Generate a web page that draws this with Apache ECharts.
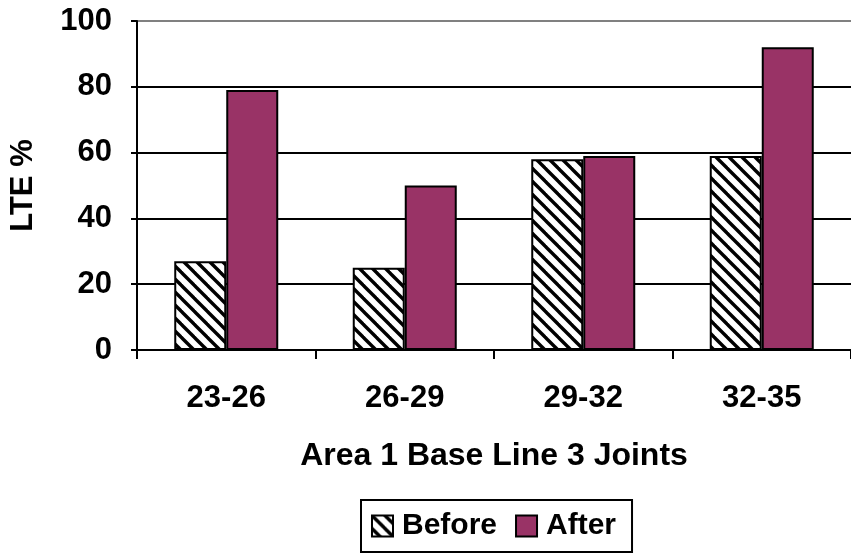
<!DOCTYPE html>
<html>
<head>
<meta charset="utf-8">
<script src="https://cdn.jsdelivr.net/npm/echarts@6/dist/echarts.min.js"></script>
<style>
  html, body { margin: 0; padding: 0; background: #fff; }
  #chart { width: 851px; height: 553px; }
</style>
</head>
<body>
<div id="chart"></div>
<script>
// Joint ranges along base line 3, area 1
const categories = ['23-26', '26-29', '29-32', '32-35'];
// Load transfer efficiency (%) before and after
const beforeValues = [27, 25, 58, 59];
const afterValues = [79, 50, 59, 92];
const yTicks = [0, 20, 40, 60, 80, 100];

// Diagonal hatch fill for the "Before" bars
function makeHatch() {
  const s = 13;
  const c = document.createElement('canvas');
  c.width = s; c.height = s;
  const ctx = c.getContext('2d');
  ctx.fillStyle = '#fff';
  ctx.fillRect(0, 0, s, s);
  ctx.strokeStyle = '#000';
  ctx.lineWidth = 3.4;
  for (const off of [-s, 0, s]) {
    ctx.beginPath();
    ctx.moveTo(off - 2, -2);
    ctx.lineTo(off + s + 2, s + 2);
    ctx.stroke();
  }
  return c;
}

const font = '"Liberation Sans", Arial, sans-serif';
const chart = echarts.init(document.getElementById('chart'), null, { renderer: 'canvas' });

chart.setOption({
  animation: false,
  backgroundColor: '#fff',
  textStyle: { fontFamily: font, fontWeight: 'bold', color: '#000' },
  grid: { left: 136, right: -9, top: 21, bottom: 203, containLabel: false },
  legend: {
    bottom: 1,
    left: 361,
    icon: 'rect',
    itemWidth: 21,
    itemHeight: 21,
    itemGap: 18,
    padding: [11, 16, 11, 10],
    borderColor: '#000',
    borderWidth: 2,
    textStyle: { fontFamily: font, fontWeight: 'bold', fontSize: 30, color: '#000', padding: [0, 0, 0, 4] },
    data: ['Before', 'After']
  },
  xAxis: {
    type: 'category',
    data: categories,
    name: 'Area 1 Base Line 3 Joints',
    nameLocation: 'middle',
    nameGap: 90,
    nameTextStyle: { fontFamily: font, fontWeight: 'bold', fontSize: 32, color: '#000' },
    axisLine: { lineStyle: { color: '#000', width: 2 } },
    axisTick: { show: true, length: 9, lineStyle: { color: '#000', width: 2 } },
    axisLabel: { margin: 33, fontFamily: font, fontWeight: 'bold', fontSize: 31, color: '#000' }
  },
  yAxis: {
    type: 'value',
    min: yTicks[0],
    max: yTicks[yTicks.length - 1],
    interval: 20,
    name: 'LTE %',
    nameLocation: 'middle',
    nameGap: 98,
    nameTextStyle: { fontFamily: font, fontWeight: 'bold', fontSize: 31, color: '#000' },
    axisLine: { show: true, lineStyle: { color: '#000', width: 2 } },
    axisTick: { show: true, length: 6, lineStyle: { color: '#000', width: 2 } },
    axisLabel: { margin: 25, fontFamily: font, fontWeight: 'bold', fontSize: 31, color: '#000' },
    splitLine: { show: true, lineStyle: { color: ['#000', '#000', '#000', '#000', '#000', '#808080'], width: 2 } }
  },
  series: [
    {
      name: 'Before',
      type: 'bar',
      data: beforeValues,
      barWidth: 52,
      barGap: '0%',
      itemStyle: { color: { image: makeHatch(), repeat: 'repeat' }, borderColor: '#000', borderWidth: 2 }
    },
    {
      name: 'After',
      type: 'bar',
      data: afterValues,
      barWidth: 52,
      barGap: '0%',
      itemStyle: { color: '#993366', borderColor: '#000', borderWidth: 2 }
    }
  ]
});
</script>
</body>
</html>
